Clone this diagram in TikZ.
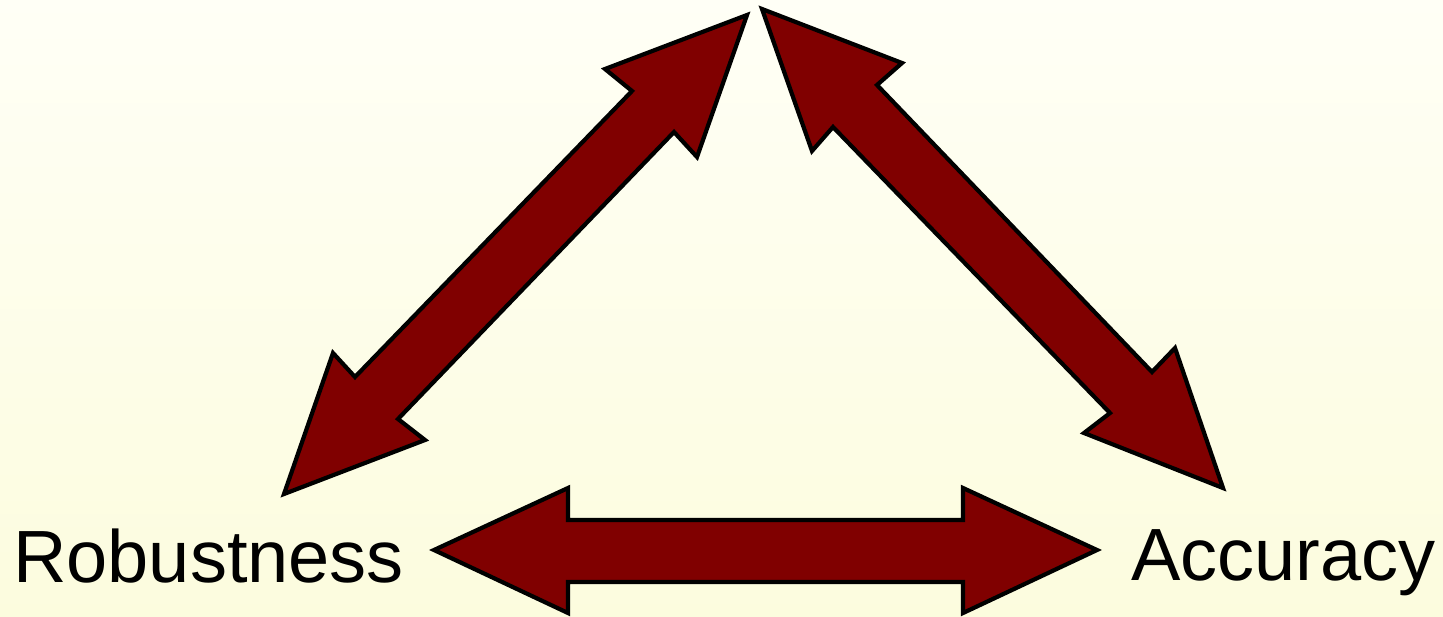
\documentclass[tikz,border=0pt]{standalone}
\usepackage{fontspec}
\setmainfont{Liberation Sans}
\definecolor{arrowred}{RGB}{128,0,0}
\definecolor{bgtop}{RGB}{255,255,246}
\definecolor{bgbottom}{RGB}{252,252,222}
\tikzset{
	blockarrow/.style={fill=arrowred, draw=black, line width=4.2pt, line join=miter},
	corner/.style={anchor=base west, inner sep=0pt, font=\fontsize{74}{80}\selectfont}
}
\begin{document}
\begin{tikzpicture}[x=1pt,y=1pt,yscale=-1,xscale=1]

	%%BACKGROUND--------------------------------------------
	\shade [top color=bgtop, bottom color=bgbottom] (0,0) rectangle (1443,616);
	\useasboundingbox (0,0) rectangle (1443,616);

	%%ARROWS------------------------------------------------
	%%Bottom arrow
	\draw [blockarrow] (434,550) -- (568,488) -- (568,520) -- (963,520) -- (963,488)
		-- (1097,550) -- (963,613) -- (963,582) -- (568,582) -- (568,613) -- cycle;
	%%Left arrow
	\draw [blockarrow] (747,15) -- (697,157) -- (674,132) -- (398,419) -- (425,440)
		-- (284,494) -- (333,353) -- (355,377) -- (632,91) -- (605,69) -- cycle;
	%%Right arrow
	\draw [blockarrow] (762,9) -- (902,63) -- (877,85) -- (1152,372) -- (1175,348)
		-- (1223,488) -- (1084,433) -- (1110,413) -- (833,127) -- (812,151) -- cycle;

	% Text Node
	\node [corner] (robustness) at (13,582) {Robustness};
	% Text Node
	\node [corner] (accuracy) at (1131,580) {Accuracy};

\end{tikzpicture}
\end{document}
